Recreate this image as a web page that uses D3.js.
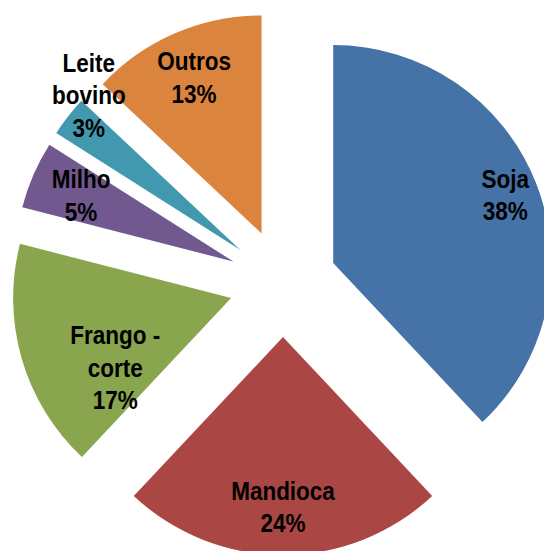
<!DOCTYPE html>
<html>
<head>
<meta charset="utf-8">
<script src="https://cdn.jsdelivr.net/npm/d3@7"></script>
<style>
  html, body { margin: 0; padding: 0; background: #fff; overflow: hidden; }
  svg text { font-family: "Liberation Sans", Arial, sans-serif; font-weight: bold; fill: #000; }
</style>
</head>
<body>
<div id="chart"></div>
<script>
// data
var categories = ["Soja", "Mandioca", "Frango - corte", "Milho", "Leite bovino", "Outros"];
var shares = [38, 24, 17, 5, 3, 13];
var colors = ["#4572A7", "#AA4643", "#89A54E", "#71588F", "#4198AF", "#DB843D"];

var width = 544,
    height = 551,
    cx = 283,
    cy = 283,
    radius = 218,
    explode = 54,
    labelDist = 224,
    fontSize = 25,
    squeeze = 0.9,   // labels in the picture are a narrow bold face
    lineHeight = 32.5,
    capHeight = 18;

// excel moved a couple of labels away from the mid angle
var labelTweak = {
  "Soja": { dist: 239 },
  "Frango - corte": { dist: 188, angle: 243.2 },
  "Milho": { dist: 220 },
  "Leite bovino": { dist: 270, angle: 314 }
};

var data = categories.map(function(c, i) {
  return { name: c, value: shares[i], color: colors[i] };
});

var svg = d3.select("#chart").append("svg")
  .attr("width", width)
  .attr("height", height);

var g = svg.append("g")
  .attr("transform", "translate(" + cx + "," + cy + ")");

var pie = d3.pie()
  .value(function(d) { return d.value; })
  .sort(null);

var arc = d3.arc()
  .innerRadius(0)
  .outerRadius(radius);

function dir(a) {
  // angle in radians, 0 at 12 o'clock, clockwise
  return [Math.sin(a), -Math.cos(a)];
}

var arcs = pie(data);

var slice = g.selectAll("g.slice")
  .data(arcs)
  .enter().append("g")
  .attr("class", "slice")
  .attr("transform", function(d) {
    var v = dir((d.startAngle + d.endAngle) / 2);
    return "translate(" + (v[0] * explode) + "," + (v[1] * explode) + ")";
  });

slice.append("path")
  .attr("d", arc)
  .attr("fill", function(d) { return d.data.color; });

function labelLines(d) {
  var name = d.data.name;
  var lines = [];
  var k = name.lastIndexOf(" ");
  if (k > 0) {
    lines.push(name.slice(0, k));
    lines.push(name.slice(k + 1));
  } else {
    lines.push(name);
  }
  lines.push(d.data.value + "%");
  return lines;
}

g.selectAll("text.label")
  .data(arcs)
  .enter().append("text")
  .attr("class", "label")
  .attr("text-anchor", "middle")
  .attr("font-size", fontSize)
  .each(function(d) {
    var t = labelTweak[d.data.name] || {};
    var a = t.angle != null ? t.angle * Math.PI / 180 : (d.startAngle + d.endAngle) / 2;
    var r = t.dist != null ? t.dist : labelDist;
    var v = dir(a);
    var lines = labelLines(d);
    var blockH = capHeight + (lines.length - 1) * lineHeight;
    var y0 = -blockH / 2 + capHeight;
    var txt = d3.select(this)
      .attr("transform", "translate(" + (v[0] * r) + "," + (v[1] * r) + ") scale(" + squeeze + ",1)");
    lines.forEach(function(l, i) {
      txt.append("tspan")
        .attr("x", 0)
        .attr("y", y0 + i * lineHeight)
        .text(l);
    });
  });
</script>
</body>
</html>
